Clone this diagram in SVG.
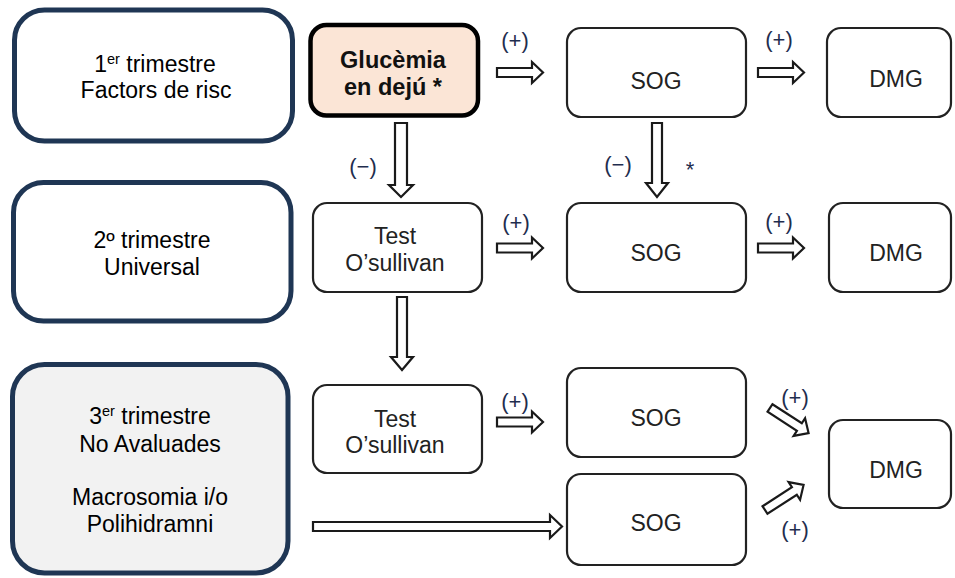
<svg xmlns="http://www.w3.org/2000/svg" width="955" height="578" viewBox="0 0 955 578">
<style>
.lbox{fill:#fff;stroke:#1f3654;stroke-width:5}
.box{fill:#fff;stroke:#222;stroke-width:2.2}
.glu{fill:#fbe5d6;stroke:#000;stroke-width:4.5}
.arr{fill:#fff;stroke:#1a1a1a;stroke-width:2.2;stroke-linejoin:miter}
.t{font-family:"Liberation Sans",Arial,sans-serif;font-size:23px;fill:#000;text-anchor:middle}
.n{font-size:23px;fill:#222}
.b{font-weight:bold;font-size:23.5px;fill:#111}
.lab{font-size:22px;fill:#1f2d4e}
</style>
<defs>
<path id="harrow" d="M0,-4.5 H35 V-10.5 L46,0 L35,10.5 V4.5 H0 Z"/>
</defs>
<rect width="955" height="578" fill="#fff"/>

<g id="trim1">
<rect class="lbox" x="14.5" y="10" width="278" height="131" rx="30"/>
<text class="t" x="155" y="72">1<tspan font-size="14.5" dy="-8">er</tspan><tspan dy="8"> trimestre</tspan></text>
<text class="t" x="156" y="98">Factors de risc</text>
</g>
<g id="trim2">
<rect class="lbox" x="13.5" y="182.5" width="277.5" height="138.5" rx="30"/>
<text class="t" x="152" y="248">2º trimestre</text>
<text class="t" x="152" y="275">Universal</text>
</g>
<g id="trim3">
<rect class="lbox" x="12.5" y="364.5" width="275.5" height="208.5" rx="32" style="fill:#f2f2f2"/>
<text class="t" x="150" y="424">3<tspan font-size="14.5" dy="-8">er</tspan><tspan dy="8"> trimestre</tspan></text>
<text class="t" x="150" y="452">No Avaluades</text>
<text class="t" x="150" y="505">Macrosomia i/o</text>
<text class="t" x="150" y="532">Polihidramni</text>
</g>

<g id="glucemia">
<rect class="glu" x="310.5" y="25" width="167.5" height="90.5" rx="16"/>
<text class="t b" x="393" y="68">Glucèmia</text>
<text class="t b" x="393" y="95">en dejú *</text>
</g>
<g id="sog1">
<rect class="box" x="567" y="28" width="179" height="89" rx="14"/>
<text class="t n" x="656" y="89">SOG</text>
</g>
<g id="dmg1">
<rect class="box" x="827" y="28" width="124" height="89" rx="14"/>
<text class="t n" x="896" y="87">DMG</text>
</g>
<g id="test2">
<rect class="box" x="313" y="203" width="169" height="89" rx="14"/>
<text class="t n" x="395" y="244">Test</text>
<text class="t n" x="395" y="271">O’sullivan</text>
</g>
<g id="sog2">
<rect class="box" x="567" y="203" width="179" height="89" rx="14"/>
<text class="t n" x="656" y="261">SOG</text>
</g>
<g id="dmg2">
<rect class="box" x="829" y="203" width="122" height="89" rx="14"/>
<text class="t n" x="896" y="261">DMG</text>
</g>
<g id="test3">
<rect class="box" x="313" y="385" width="169" height="88" rx="14"/>
<text class="t n" x="395" y="427">Test</text>
<text class="t n" x="395" y="453">O’sullivan</text>
</g>
<g id="sog3">
<rect class="box" x="567" y="368" width="179" height="89" rx="14"/>
<text class="t n" x="656" y="426">SOG</text>
</g>
<g id="sog4">
<rect class="box" x="567" y="474" width="179" height="91" rx="14"/>
<text class="t n" x="656" y="531">SOG</text>
</g>
<g id="dmg3">
<rect class="box" x="829" y="420" width="122" height="88" rx="14"/>
<text class="t n" x="896" y="478">DMG</text>
</g>

<g id="connectors">
<use href="#harrow" class="arr" transform="translate(497,72.5)"/>
<use href="#harrow" class="arr" transform="translate(758,72.5)"/>
<use href="#harrow" class="arr" transform="translate(497,248)"/>
<use href="#harrow" class="arr" transform="translate(758,248)"/>
<use href="#harrow" class="arr" transform="translate(497,422)"/>
<use href="#harrow" class="arr" transform="translate(770,408) rotate(33)"/>
<use href="#harrow" class="arr" transform="translate(765,510) rotate(-33)"/>
<path class="arr" d="M313,522 H550 V515 L562,526.5 L550,538 V531 H313 Z"/>
<path class="arr" d="M395,123 H407 V185 H413 L401,197 L389,185 H395 Z"/>
<path class="arr" d="M652,123 H662 V183 H668 L657,197 L646,183 H652 Z"/>
<path class="arr" d="M397,297 H407 V357 H413 L402,370 L391,357 H397 Z"/>
<text class="t lab" x="515" y="48">(+)</text>
<text class="t lab" x="779" y="47">(+)</text>
<text class="t lab" x="363" y="174">(−)</text>
<text class="t lab" x="618" y="172">(−)</text>
<text class="t lab" x="690" y="177" font-size="18">*</text>
<text class="t lab" x="516" y="230">(+)</text>
<text class="t lab" x="779" y="229">(+)</text>
<text class="t lab" x="515" y="409">(+)</text>
<text class="t lab" x="795" y="405">(+)</text>
<text class="t lab" x="795" y="537">(+)</text>
</g>
</svg>
